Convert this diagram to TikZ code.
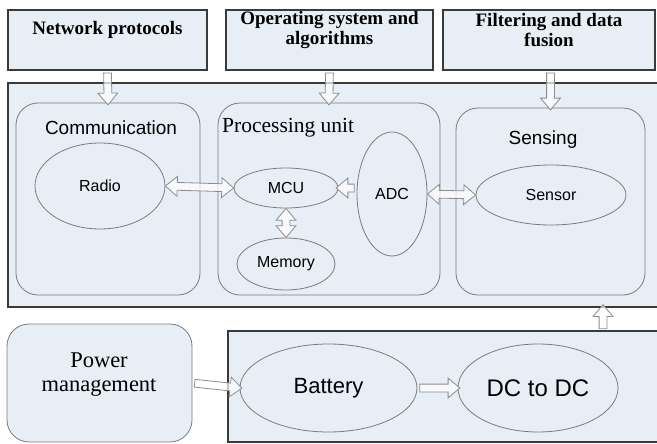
\documentclass[tikz,border=0pt]{standalone}
\usepackage{fontspec}
\setmainfont{Liberation Serif}
\setsansfont{Liberation Sans}
\usetikzlibrary{shapes.geometric,shapes.arrows,calc}

\definecolor{panel}{HTML}{E8EEF6}
\definecolor{frame}{HTML}{3A3A3A}
\definecolor{soft}{HTML}{7C7C7C}
\definecolor{arrowline}{HTML}{8C8C8C}

\tikzset{
  topbox/.style={draw=frame, line width=1.4pt, fill=panel, minimum height=60pt, inner sep=0pt},
  bigbox/.style={draw=frame, line width=1.4pt, fill=panel, inner sep=0pt},
  roundbox/.style={draw=soft, line width=0.8pt, rounded corners=22pt, inner sep=0pt},
  blob/.style={ellipse, draw=soft, line width=0.8pt, inner sep=0pt, font=\sffamily\fontsize{16}{18}\selectfont},
  toplabel/.style={font=\bfseries\fontsize{19}{20}\selectfont, align=center, inner sep=0pt},
  sanslabel/.style={font=\sffamily\fontsize{19}{21}\selectfont, inner sep=0pt},
  seriflabel/.style={font=\fontsize{21.5}{24}\selectfont, inner sep=0pt, align=center},
  onehead/.style={single arrow, draw=arrowline, fill=white, fill opacity=0.7, draw opacity=1,
    line width=0.8pt, inner xsep=0pt, inner ysep=3.5pt,
    single arrow head extend=6pt, single arrow head indent=0pt, single arrow tip angle=80},
  twohead/.style={double arrow, draw=arrowline, fill=white, fill opacity=0.7, draw opacity=1,
    line width=0.8pt, inner xsep=0pt, inner ysep=3.5pt,
    double arrow head extend=6pt, double arrow head indent=0pt, double arrow tip angle=80},
}

% hollow block arrow stretched between two points: style, name, from, to
\newcommand\blockarrow[4]{%
  \path let \p1=(#3), \p2=(#4),
            \n1={atan2(\y2-\y1,\x2-\x1)}, \n2={veclen(\x2-\x1,\y2-\y1)} in
    node[#1, minimum height=\n2, rotate=\n1] (#2) at ($(\p1)!0.5!(\p2)$) {};}

\begin{document}
\begin{tikzpicture}[x=1pt, y=-1pt]
  \useasboundingbox (0,0) rectangle (657,444);
  \clip (0,0) rectangle (657,444);

  % upper row: software layers
  \node[topbox, minimum width=199pt] (np)   at (107.5,40) {};
  \node[topbox, minimum width=207pt] (os)   at (329.5,40) {};
  \node[topbox, minimum width=212pt] (filt) at (549,40) {};
  \node[toplabel] (nptext)   at (107.5,30) {Network protocols};
  \node[toplabel] (ostext)   at (329.5,30) {Operating system and\\algorithms};
  \node[toplabel] (filttext) at (549,30) {Filtering and data\\fusion};

  % sensor node hardware
  \node[bigbox, minimum width=654pt, minimum height=224pt] (main) at (335,195) {};
  \node[roundbox, minimum width=184pt, minimum height=192pt] (comm) at (108,199) {};
  \node[roundbox, minimum width=222pt, minimum height=192pt] (proc) at (329,199) {};
  \node[roundbox, minimum width=189pt, minimum height=187pt] (sens) at (550.5,201.5) {};
  \node[sanslabel] (commtext) at (111,128) {Communication};
  \node[seriflabel, anchor=west] (proctext) at (222,128) {Processing unit};
  \node[sanslabel] (senstext) at (543,140) {Sensing};

  \node[blob, minimum width=130pt, minimum height=86pt] (radio)  at (100,186) {Radio};
  \node[blob, minimum width=104pt, minimum height=40pt] (mcu)    at (286,188) {MCU};
  \node[blob, minimum width=98pt,  minimum height=52pt] (mem)    at (286,264) {Memory};
  \node[blob, minimum width=70pt,  minimum height=124pt] (adc)   at (392,194) {ADC};
  \node[blob, minimum width=150pt, minimum height=60pt] (sensor) at (551,195) {Sensor};

  % power supply
  \node[roundbox, fill=panel, minimum width=185pt, minimum height=118pt] (power) at (99.5,383) {};
  \node[seriflabel, font=\fontsize{22.5}{24}\selectfont] (powertext) at (99,375) {Power\\management};
  \node[bigbox, minimum width=434pt, minimum height=111pt] (supply) at (445,386.5) {};
  \node[blob, minimum width=177pt, minimum height=88pt, font=\sffamily\fontsize{22}{24}\selectfont] (battery) at (328.5,388) {Battery};
  \node[blob, minimum width=160pt, minimum height=88pt, font=\sffamily\fontsize{24}{26}\selectfont] (dcdc) at (538,388) {DC to DC};

  % connectors
  \coordinate (npfoot) at (np.south);
  \coordinate (osfoot) at (os.south);
  \coordinate (filtfoot) at (sens.north |- filt.south);
  \coordinate (upfoot) at (603,331);
  \coordinate (uptip) at (603,307);
  \coordinate (adcside) at (adc.west |- mcu.east);

  \blockarrow{onehead}{a1}{npfoot}{comm.north}
  \blockarrow{onehead}{a2}{osfoot}{proc.north}
  \blockarrow{onehead}{a3}{filtfoot}{sens.north}
  \blockarrow{twohead}{a4}{radio.east}{mcu.west}
  \blockarrow{twohead}{a5}{mcu.south}{mem.north}
  \blockarrow{onehead}{a6}{adcside}{mcu.east}
  \blockarrow{twohead}{a7}{adc.east}{sensor.west}
  \blockarrow{onehead}{a8}{upfoot}{uptip}
  \blockarrow{onehead}{a9}{power.east}{battery.west}
  \blockarrow{onehead}{a10}{battery.east}{dcdc.west}
\end{tikzpicture}
\end{document}
